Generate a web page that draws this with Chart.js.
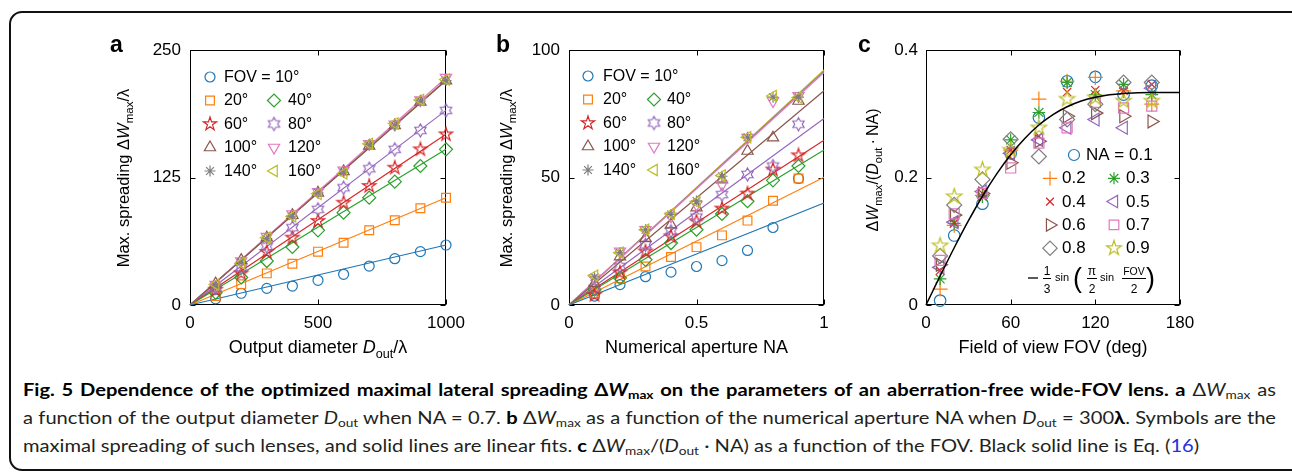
<!DOCTYPE html>
<html>
<head>
<meta charset="utf-8">
<title>Fig. 5</title>
<script src="https://cdn.jsdelivr.net/npm/chart.js@4.4.1/dist/chart.umd.min.js"></script>
<style>
  html, body { margin: 0; padding: 0; background: #fff; }
  body { position: relative; width: 1292px; height: 472px; overflow: hidden; }
  #frame { position: absolute; left: 9px; top: 11px; width: 1300px; height: 460px; box-sizing: border-box; border: 2px solid #111; border-radius: 13px; }
  canvas { position: absolute; }
  #cap { position: absolute; left: 23px; top: 376px; width: 2400px; font-family: Lato, "Open Sans", sans-serif; font-size: 16.5px; color: #231f20; transform-origin: 0 0; }
  #cap.measure .ln { white-space: nowrap; }
  .ln { height: 28px; line-height: 28px; }
  .jj { text-align: justify; text-align-last: justify; }
  #cap b { color: #000; }
  #cap sub { font-size: 68%; vertical-align: -0.28em; line-height: 0; }
  .ref { color: #2233dd; }
</style>
</head>
<body>
<div id="frame"></div>
<canvas id="chartA" width="365" height="346" style="left:100px;top:20px"></canvas>
<canvas id="chartB" width="365" height="346" style="left:480px;top:20px"></canvas>
<canvas id="chartC" width="370" height="346" style="left:840px;top:20px"></canvas>
<div id="cap" class="measure">
  <div class="ln j"><span><b>Fig. 5 Dependence of the optimized maximal lateral spreading Δ<i>W</i><sub>max</sub> on the parameters of an aberration-free wide-FOV lens. a</b> Δ<i>W</i><sub>max</sub> as</span></div>
  <div class="ln j"><span>a function of the output diameter <i>D</i><sub>out</sub> when NA = 0.7. <b>b</b> Δ<i>W</i><sub>max</sub> as a function of the numerical aperture NA when <i>D</i><sub>out</sub> = 300<b>λ</b>. Symbols are the</span></div>
  <div class="ln"><span>maximal spreading of such lenses, and solid lines are linear fits. <b>c</b> Δ<i>W</i><sub>max</sub>/(<i>D</i><sub>out</sub> · NA) as a function of the FOV. Black solid line is Eq. (<span class="ref">16</span>)</span></div>
</div>
<script>
// ---------- data ----------
const fovLabels = ['FOV = 10°', '20°', '40°', '60°', '80°', '100°', '120°', '140°', '160°'];
const naLabels = ['NA = 0.1', '0.2', '0.3', '0.4', '0.5', '0.6', '0.7', '0.8', '0.9'];

// a: spreading vs output diameter (NA = 0.7)
const diameter = [100, 200, 300, 400, 500, 600, 700, 800, 900, 1000];
const aFov10  = [6, 11.5, 16.3, 18.6, 24.2, 30.1, 38.2, 45.4, 52.3, 58.8];
const aFov20  = [8.8, 20.3, 31, 40.5, 52.3, 61.1, 73.2, 83, 94.8, 105.2];
const aFov40  = [12, 27, 43.1, 56.9, 73.2, 90.5, 105.2, 120.9, 136.3, 152.6];
const aFov60  = [15, 31, 52, 66, 82.4, 100.3, 116.7, 134.6, 152.6, 167.3];
const aFov80  = [17, 36.6, 57.2, 75.8, 93.8, 115, 133.6, 152.6, 171.2, 190.8];
const aFov100 = [21, 44, 66, 88, 110, 131, 156, 176, 199, 220];
const aFov120 = [20, 43, 67, 89, 111, 132, 158, 177, 201, 223];
const aFov140 = [19, 42, 65, 87, 110, 130, 157, 176, 200, 220];
const aFov160 = [20, 41, 66, 87, 109, 129, 158, 178, 201, 221];
const aFitEnd = [58.8, 105.2, 152.6, 167.3, 190.8, 220, 222.8, 220.3, 221]; // fit value at D = 1000

// b: spreading vs numerical aperture (D = 300 lambda)
const aperture = [0.1, 0.2, 0.3, 0.4, 0.5, 0.6, 0.7, 0.8, 0.9];
const bFov10  = [3.5, 8, 11.1, 12.9, 15.1, 17.4, 21.4, 30.4, 49.6];
const bFov20  = [4.5, 10.5, 15.1, 18.8, 22.7, 27.3, 33.1, 40.9, 49.6];
const bFov40  = [6, 10.6, 17.7, 24.3, 29.5, 35.7, 40.7, 48.9, 54.5];
const bFov60  = [3.9, 12.7, 21, 26.9, 32.8, 37.8, 43.7, 53.1, 58.7];
const bFov80  = [6.5, 15.1, 23.6, 28.9, 34.5, 43.3, 51.2, 54.5, 70.9];
const bFov100 = [8.5, 19, 26.2, 31.5, 38.2, 49.2, 60.4, 65.6, 80];
const bFov120 = [10.5, 21, 29.5, 34.8, 39.4, 47.2, 65.6, 80, 82];
const bFov140 = [11, 20.5, 29.5, 35.5, 40.8, 50.5, 65.8, 81.5, 81.5];
const bFov160 = [11.5, 20.5, 29.5, 35.8, 40.5, 50.8, 65.8, 82, 81.4];
const bFitEnd = [40.0, 50.1, 60.8, 64.6, 73.1, 84, 91.2, 91.7, 92.2]; // fit value at NA = 1

// c: normalised spreading vs FOV
const fovPoints = [10, 20, 40, 60, 80, 100, 120, 140, 160];
const cNa01 = [0.007, 0.109, 0.159, 0.238, 0.294, 0.351, 0.358, 0.330, 0.344];
const cNa02 = [0.025, 0.125, 0.172, 0.243, 0.323, 0.351, 0.357, 0.336, 0.315];
const cNa03 = [0.041, 0.128, 0.170, 0.259, 0.302, 0.349, 0.330, 0.346, 0.330];
const cNa04 = [0.054, 0.129, 0.175, 0.243, 0.265, 0.334, 0.337, 0.336, 0.346];
const cNa05 = [0.059, 0.130, 0.178, 0.238, 0.259, 0.278, 0.291, 0.278, 0.340];
const cNa06 = [0.063, 0.141, 0.175, 0.223, 0.257, 0.296, 0.301, 0.296, 0.288];
const cNa07 = [0.070, 0.143, 0.175, 0.215, 0.254, 0.278, 0.318, 0.309, 0.312];
const cNa08 = [0.077, 0.157, 0.197, 0.260, 0.233, 0.291, 0.315, 0.349, 0.349];
const cNa09 = [0.093, 0.170, 0.212, 0.243, 0.278, 0.323, 0.325, 0.320, 0.320];
// black curve
const curveFov = [0, 5, 10, 20, 30, 40, 50, 60, 70, 80, 90, 100, 110, 120, 130, 140, 150, 160, 170, 180];
const curveVal = [0, 0.0228, 0.0455, 0.0898, 0.1318, 0.1706, 0.2054, 0.2357, 0.2613, 0.2823, 0.2987, 0.3110, 0.3200, 0.3260, 0.3298, 0.3319, 0.3329, 0.3333, 0.3333, 0.3333];

// tick labels
const aXTicks = [0, 500, 1000];
const aYTicks = [0, 125, 250];
const bXTicks = [0, 0.5, 1];
const bYTicks = [0, 50, 100];
const cXTicks = [0, 60, 120, 180];
const cYTicks = [0, 0.2, 0.4];

// ---------- styles ----------
const FONT = '"Liberation Sans", Arial, Helvetica, sans-serif';
const colors = ['#1f77b4', '#ff7f0e', '#2ca02c', '#d62728', '#9467bd', '#8c564b', '#e377c2', '#7f7f7f', '#bcbd22'];
const fovMarkers = ['circle', 'rect', 'rectRot', 'penta', 'hexa', 'triUp', 'triDown', 'star', 'triLeft'];
const naMarkers = ['circle', 'cross', 'star', 'crossRot', 'triLeft', 'triRight', 'rect', 'rectRot', 'penta'];

Chart.defaults.font.family = FONT;
Chart.defaults.color = '#000';
Chart.defaults.animation = false;
Chart.defaults.events = [];
Chart.defaults.plugins.legend.display = false;
Chart.defaults.plugins.tooltip.enabled = false;

// outlined n-point star as an image point style
function starImage(n, inner, r, color) {
  const s = Math.ceil(2 * r + 4);
  const c = document.createElement('canvas');
  c.width = c.height = s;
  const g = c.getContext('2d');
  g.translate(s / 2, s / 2);
  g.beginPath();
  for (let k = 0; k < 2 * n; k++) {
    const rr = k % 2 ? r * inner : r;
    const ang = -Math.PI / 2 + k * Math.PI / n;
    g.lineTo(rr * Math.cos(ang), rr * Math.sin(ang));
  }
  g.closePath();
  g.strokeStyle = color;
  g.lineWidth = 1.2;
  g.stroke();
  return c;
}

function marker(kind, color, k) {
  switch (kind) {
    case 'circle': return { pointStyle: 'circle', pointRadius: 5 * k, pointRotation: 0 };
    case 'rect': return { pointStyle: 'rect', pointRadius: 6.2 * k, pointRotation: 0 };
    case 'rectRot': return { pointStyle: 'rectRot', pointRadius: 6.5 * k, pointRotation: 0 };
    case 'triUp': return { pointStyle: 'triangle', pointRadius: 6.5 * k, pointRotation: 0 };
    case 'triDown': return { pointStyle: 'triangle', pointRadius: 6.5 * k, pointRotation: 180 };
    case 'triLeft': return { pointStyle: 'triangle', pointRadius: 6.5 * k, pointRotation: -90 };
    case 'triRight': return { pointStyle: 'triangle', pointRadius: 6.5 * k, pointRotation: 90 };
    case 'star': return { pointStyle: 'star', pointRadius: 5.5 * k, pointRotation: 0 };
    case 'cross': return { pointStyle: 'cross', pointRadius: 6.5 * k, pointRotation: 0 };
    case 'crossRot': return { pointStyle: 'crossRot', pointRadius: 5 * k, pointRotation: 0 };
    case 'penta': return { pointStyle: starImage(5, 0.382, 7 * k, color), pointRadius: 6, pointRotation: 0 };
    case 'hexa': return { pointStyle: starImage(6, 0.577, 6.5 * k, color), pointRadius: 6, pointRotation: 0 };
  }
}

function markerSet(label, xs, ys, kind, i, k) {
  return Object.assign({
    label,
    data: xs.map((x, j) => ({ x, y: ys[j] })),
    showLine: false,
    pointBorderColor: colors[i],
    pointBackgroundColor: 'rgba(0,0,0,0)',
    pointBorderWidth: 1.2,
    order: -i,
    clip: false
  }, marker(kind, colors[i], k));
}

function lineSet(xs, ys, color, width, order) {
  return {
    data: xs.map((x, j) => ({ x, y: ys[j] })),
    showLine: true,
    pointRadius: 0,
    borderColor: color,
    borderWidth: width,
    fill: false,
    order,
    clip: false,
    cubicInterpolationMode: 'monotone'
  };
}

function axis(pos, min, max, ticks, size, pad) {
  return {
    type: 'linear', position: pos, min, max,
    grid: { display: false, drawTicks: false },
    border: { display: false },
    afterBuildTicks: s => { s.ticks = ticks.map(v => ({ value: v })); },
    ticks: { font: { size: 17 }, color: '#000', padding: pad, maxRotation: 0, autoSkip: false, callback: v => String(v) },
    afterFit: s => {
      if (pos === 'bottom') s.height = size; else s.width = size;
      s.paddingLeft = s.paddingRight = s.paddingTop = s.paddingBottom = 0;
    }
  };
}

// rich text: runs of [text, kind] with kind '' normal, 'i' italic, 's' subscript
function runFont(kind, size) {
  const sz = kind === 's' ? size * 0.7 : size;
  return (kind === 'i' ? 'italic ' : '') + sz + 'px ' + FONT;
}
function drawRich(ctx, runs, cx, baseY, size) {
  let w = 0;
  runs.forEach(([t, k]) => { ctx.font = runFont(k, size); w += ctx.measureText(t).width; });
  let x = cx - w / 2;
  ctx.textAlign = 'left';
  ctx.textBaseline = 'alphabetic';
  runs.forEach(([t, k]) => {
    ctx.font = runFont(k, size);
    ctx.fillText(t, x, baseY + (k === 's' ? size * 0.27 : 0));
    x += ctx.measureText(t).width;
  });
}

function legendMarker(ctx, kind, color, x, y, k) {
  const m = marker(kind, color, k);
  ctx.save();
  ctx.strokeStyle = color;
  ctx.fillStyle = 'rgba(0,0,0,0)';
  ctx.lineWidth = 1.2;
  Chart.helpers.drawPoint(ctx, { pointStyle: m.pointStyle, radius: m.pointRadius, rotation: m.pointRotation, borderWidth: 1.2 }, x, y);
  ctx.restore();
}

function drawFormula(ctx, x, y) {
  ctx.save();
  ctx.strokeStyle = '#000';
  ctx.fillStyle = '#000';
  ctx.lineWidth = 1.3;
  ctx.beginPath(); ctx.moveTo(x, y); ctx.lineTo(x + 10, y); ctx.stroke();
  ctx.lineWidth = 1;
  const frac = (top, bot, cx, w, topSize) => {
    ctx.textAlign = 'center';
    ctx.textBaseline = 'alphabetic';
    ctx.font = topSize + 'px ' + FONT; ctx.fillText(top, cx, y - 3);
    ctx.font = '12px ' + FONT; ctx.fillText(bot, cx, y + 15);
    ctx.beginPath(); ctx.moveTo(cx - w / 2, y + 0.5); ctx.lineTo(cx + w / 2, y + 0.5); ctx.stroke();
  };
  frac('1', '3', x + 19, 8, 12);
  ctx.textAlign = 'left';
  ctx.font = '11px ' + FONT; ctx.fillText('sin', x + 27, y + 3);
  ctx.font = '27px ' + FONT; ctx.fillText('(', x + 45, y + 9);
  frac('π', '2', x + 64, 10, 12);
  ctx.textAlign = 'left';
  ctx.font = '11px ' + FONT; ctx.fillText('sin', x + 72, y + 3);
  frac('FOV', '2', x + 106, 24, 10.5);
  ctx.textAlign = 'left';
  ctx.font = '27px ' + FONT; ctx.fillText(')', x + 118, y + 9);
  ctx.restore();
}

// box, inward ticks, titles, letter and legend
function deco(cfg) {
  return {
    id: 'deco',
    beforeDatasetsDraw(chart) {
      const { ctx, chartArea: a, scales } = chart;
      const L = Math.round(a.left) + 0.5, R = Math.round(a.right) - 0.5;
      const T = Math.round(a.top) + 0.5, B = Math.round(a.bottom) - 0.5;
      ctx.save();
      ctx.strokeStyle = '#000';
      ctx.lineWidth = 1;
      ctx.strokeRect(L, T, R - L, B - T);
      ctx.beginPath();
      scales.x.ticks.forEach(t => {
        const p = Math.round(scales.x.getPixelForValue(t.value)) + 0.5;
        ctx.moveTo(p, B); ctx.lineTo(p, B - 5);
        ctx.moveTo(p, T); ctx.lineTo(p, T + 5);
      });
      scales.y.ticks.forEach(t => {
        const p = Math.round(scales.y.getPixelForValue(t.value)) + 0.5;
        ctx.moveTo(L, p); ctx.lineTo(L + 5, p);
        ctx.moveTo(R, p); ctx.lineTo(R - 5, p);
      });
      ctx.stroke();
      ctx.restore();
    },
    afterDraw(chart) {
      const { ctx, chartArea: a } = chart;
      ctx.save();
      ctx.fillStyle = '#000';
      // panel letter
      ctx.font = 'bold 23px ' + FONT;
      ctx.textAlign = 'left';
      ctx.textBaseline = 'alphabetic';
      ctx.fillText(cfg.letter, a.left + cfg.letterDx, a.top + 2);
      // x title
      drawRich(ctx, cfg.xTitle, (a.left + a.right) / 2, a.bottom + 48, 18);
      // y title
      ctx.save();
      ctx.translate(a.left + cfg.yDx, cfg.yCy);
      ctx.rotate(-Math.PI / 2);
      drawRich(ctx, cfg.yTitle, 0, cfg.ySize * 0.36, cfg.ySize);
      ctx.restore();
      // legend
      const lg = cfg.legend;
      cfg.labels.forEach((lab, i) => {
        let mx, tx, y;
        if (i === 0) { mx = lg.firstM; tx = lg.firstT; y = lg.y0; }
        else {
          const row = 1 + Math.floor((i - 1) / 2), col = (i - 1) % 2;
          mx = lg.m[col]; tx = lg.t[col]; y = lg.y0 + row * lg.dy;
        }
        legendMarker(ctx, cfg.markers[i], colors[i], a.left + mx, a.top + y, cfg.k);
        ctx.fillStyle = '#000';
        ctx.font = lg.size + 'px ' + FONT;
        ctx.textBaseline = 'middle';
        ctx.textAlign = 'left';
        ctx.fillText(lab, a.left + tx, a.top + y + 0.5);
      });
      if (cfg.formula) drawFormula(ctx, a.left + 102, a.top + 228);
      ctx.restore();
    }
  };
}

function build(id, datasets, x, y, padRight, cfg) {
  new Chart(document.getElementById(id), {
    type: 'scatter',
    data: { datasets },
    options: {
      responsive: false,
      devicePixelRatio: 1,
      layout: { padding: { top: 30, right: padRight, left: 0, bottom: 0 } },
      scales: { x, y }
    },
    plugins: [deco(cfg)]
  });
}

// ---------- panel a ----------
const aSeries = [aFov10, aFov20, aFov40, aFov60, aFov80, aFov100, aFov120, aFov140, aFov160];
const aSets = aSeries.map((ys, i) => lineSet([0, 1000], [0, aFitEnd[i]], colors[i], 1.2, 20 + i))
  .concat(aSeries.map((ys, i) => markerSet(fovLabels[i], diameter, ys, fovMarkers[i], i, 1)));
build('chartA', aSets,
  axis('bottom', 0, 1000, aXTicks, 61, 8),
  axis('left', 0, 250, aYTicks, 90, 9),
  19, {
    letter: 'a', letterDx: -80, k: 1,
    xTitle: [['Output diameter ', ''], ['D', 'i'], ['out', 's'], ['/λ', '']],
    yTitle: [['Max. spreading Δ', ''], ['W', 'i'], ['max', 's'], ['/λ', '']],
    yDx: -67, yCy: 158, ySize: 16.5,
    labels: fovLabels, markers: fovMarkers,
    legend: { size: 16, y0: 27, dy: 23.5, firstM: 20, firstT: 34, m: [20, 84], t: [34, 98] }
  });

// ---------- panel b ----------
const bSeries = [bFov10, bFov20, bFov40, bFov60, bFov80, bFov100, bFov120, bFov140, bFov160];
const bSets = bSeries.map((ys, i) => lineSet([0, 1], [0, bFitEnd[i]], colors[i], 1.2, 20 + i))
  .concat(bSeries.map((ys, i) => markerSet(fovLabels[i], aperture, ys, fovMarkers[i], i, 1)));
build('chartB', bSets,
  axis('bottom', 0, 1, bXTicks, 61, 8),
  axis('left', 0, 100, bYTicks, 89, 9),
  21, {
    letter: 'b', letterDx: -73, k: 1,
    xTitle: [['Numerical aperture NA', '']],
    yTitle: [['Max. spreading Δ', ''], ['W', 'i'], ['max', 's'], ['/λ', '']],
    yDx: -63, yCy: 158, ySize: 16.5,
    labels: fovLabels, markers: fovMarkers,
    legend: { size: 16, y0: 26, dy: 23.5, firstM: 19, firstT: 34, m: [19, 85], t: [34, 98] }
  });

// ---------- panel c ----------
const cSeries = [cNa01, cNa02, cNa03, cNa04, cNa05, cNa06, cNa07, cNa08, cNa09];
const cSets = [lineSet(curveFov, curveVal, '#000', 1.5, -50)]
  .concat(cSeries.map((ys, i) => markerSet(naLabels[i], fovPoints, ys, naMarkers[i], i, 1.15)));
build('chartC', cSets,
  axis('bottom', 0, 180, cXTicks, 61, 8),
  axis('left', 0, 0.4, cYTicks, 86, 8),
  30, {
    letter: 'c', letterDx: -68, k: 1.1,
    xTitle: [['Field of view FOV (deg)', '']],
    yTitle: [['Δ', ''], ['W', 'i'], ['max', 's'], ['/(', ''], ['D', 'i'], ['out', 's'], ['\u2009·\u2009NA)', '']],
    yDx: -54, yCy: 150, ySize: 16,
    labels: naLabels, markers: naMarkers,
    legend: { size: 17, y0: 105, dy: 23.3, firstM: 148, firstT: 160, m: [124, 188], t: [136, 200] },
    formula: true
  });

// ---------- caption fitting ----------
(function fitCaption() {
  const cap = document.getElementById('cap');
  const spans = cap.querySelectorAll('.ln > span');
  const w = Math.max(spans[0].getBoundingClientRect().width, spans[1].getBoundingClientRect().width);
  const s = 1248 / w;
  cap.classList.remove('measure');
  cap.style.width = (1253 / s) + 'px';
  cap.style.transform = 'scaleX(' + s + ')';
  cap.querySelectorAll('.j').forEach(d => d.classList.add('jj'));
})();
</script>
</body>
</html>
